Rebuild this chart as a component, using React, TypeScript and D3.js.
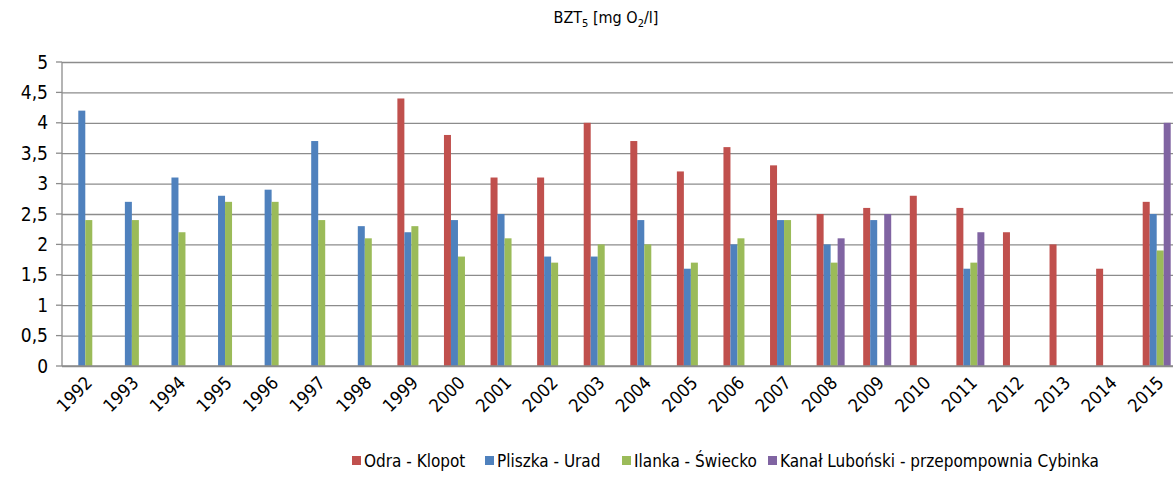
import { useEffect, useRef } from 'react'
import * as d3 from 'd3'

const years = ['1992', '1993', '1994', '1995', '1996', '1997', '1998', '1999', '2000', '2001', '2002', '2003',
  '2004', '2005', '2006', '2007', '2008', '2009', '2010', '2011', '2012', '2013', '2014', '2015']

const odra = [null, null, null, null, null, null, null, 4.4, 3.8, 3.1, 3.1, 4.0,
  3.7, 3.2, 3.6, 3.3, 2.5, 2.6, 2.8, 2.6, 2.2, 2.0, 1.6, 2.7]
const pliszka = [4.2, 2.7, 3.1, 2.8, 2.9, 3.7, 2.3, 2.2, 2.4, 2.5, 1.8, 1.8,
  2.4, 1.6, 2.0, 2.4, 2.0, 2.4, null, 1.6, null, null, null, 2.5]
const ilanka = [2.4, 2.4, 2.2, 2.7, 2.7, 2.4, 2.1, 2.3, 1.8, 2.1, 1.7, 2.0,
  2.0, 1.7, 2.1, 2.4, 1.7, null, null, 1.7, null, null, null, 1.9]
const kanal = [null, null, null, null, null, null, null, null, null, null, null, null,
  null, null, null, null, 2.1, 2.5, null, 2.2, null, null, null, 4.0]

const seriesNames = ['Odra - Klopot', 'Pliszka - Urad', 'Ilanka - Świecko', 'Kanał Luboński - przepompownia Cybinka']
const seriesValues = [odra, pliszka, ilanka, kanal]
const colors = ['#C0504D', '#4F81BD', '#9BBB59', '#8064A2']
const yTicks = [0, 0.5, 1, 1.5, 2, 2.5, 3, 3.5, 4, 4.5, 5]

const FONT = '"Liberation Sans Narrow", "DejaVu Sans Condensed", "Roboto Condensed", "Open Sans", sans-serif'

export default function App() {
  const ref = useRef<SVGSVGElement>(null)

  useEffect(() => {
    document.body.style.margin = '0'
    const svg = d3.select(ref.current)
    svg.selectAll('*').remove()

    const width = 1173
    const height = 488
    const margin = { top: 62, right: -7, bottom: 122, left: 62 }
    const innerW = width - margin.left - margin.right
    const innerH = height - margin.top - margin.bottom

    svg.attr('width', width).attr('height', height)
    svg.append('rect').attr('width', width).attr('height', height).attr('fill', '#fff')

    const g = svg.append('g').attr('transform', `translate(${margin.left},${margin.top})`)

    const x = d3.scaleBand().domain(years).range([0, innerW]).paddingInner(0).paddingOuter(0)
    const x1 = d3.scaleBand().domain(seriesNames).range([0, 28]).padding(0)
    const y = d3.scaleLinear().domain([0, 5]).range([innerH, 0])

    // grid + y labels
    g.append('g')
      .call(d3.axisLeft(y).tickValues(yTicks).tickSize(-innerW).tickPadding(14)
        .tickFormat(d => String(d).replace('.', ',')))
      .call(s => s.select('.domain').remove())
      .call(s => s.selectAll('.tick line').attr('stroke', '#8c8c8c').attr('stroke-width', 1.3))
      .call(s => s.selectAll('.tick text').attr('fill', '#000').attr('font-size', 19)
        .attr('font-family', FONT))

    // small outer ticks
    g.append('g').selectAll('line').data(yTicks).enter().append('line')
      .attr('x1', -6).attr('x2', 0)
      .attr('y1', d => y(d)).attr('y2', d => y(d))
      .attr('stroke', '#8c8c8c').attr('stroke-width', 1.3)

    // bars
    const off = (x.bandwidth() - 28) / 2
    seriesValues.forEach((vals, si) => {
      g.append('g').selectAll('rect')
        .data(vals.map((v, i) => ({ v, year: years[i] })).filter(d => d.v != null))
        .enter().append('rect')
        .attr('x', d => x(d.year)! + off + x1(seriesNames[si])!)
        .attr('y', d => y(d.v as number))
        .attr('width', x1.bandwidth())
        .attr('height', d => innerH - y(d.v as number))
        .attr('fill', colors[si])
    })

    // axis lines
    g.append('line').attr('x1', 0).attr('x2', 0).attr('y1', 0).attr('y2', innerH)
      .attr('stroke', '#8c8c8c').attr('stroke-width', 1.3)
    g.append('line').attr('x1', 0).attr('x2', innerW).attr('y1', innerH).attr('y2', innerH)
      .attr('stroke', '#8c8c8c').attr('stroke-width', 1.3)

    // x labels
    g.append('g').selectAll('text').data(years).enter().append('text')
      .attr('transform', d => `translate(${x(d)! + x.bandwidth() / 2 + 8},${innerH + 18}) rotate(-45)`)
      .attr('text-anchor', 'end')
      .attr('font-size', 18)
      .attr('font-family', FONT)
      .attr('fill', '#000')
      .text(d => d)

    // title
    const title = svg.append('text').attr('x', 606).attr('y', 23).attr('text-anchor', 'middle')
      .attr('font-size', 16).attr('font-family', FONT).attr('fill', '#000')
    title.append('tspan').text('BZT')
    title.append('tspan').attr('font-size', 11).attr('dy', 4).text('5')
    title.append('tspan').attr('dy', -4).text(' [mg O')
    title.append('tspan').attr('font-size', 11).attr('dy', 4).text('2')
    title.append('tspan').attr('dy', -4).text('/l]')

    // legend
    const legendX = [352, 485, 622, 768]
    const legend = svg.append('g')
    seriesNames.forEach((name, i) => {
      legend.append('rect').attr('x', legendX[i]).attr('y', 456).attr('width', 9).attr('height', 9)
        .attr('fill', colors[i])
      legend.append('text').attr('x', legendX[i] + 12).attr('y', 467)
        .attr('font-size', 17).attr('font-family', FONT).attr('fill', '#000').text(name)
    })
  }, [])

  return <svg ref={ref} style={{ display: 'block' }} />
}
